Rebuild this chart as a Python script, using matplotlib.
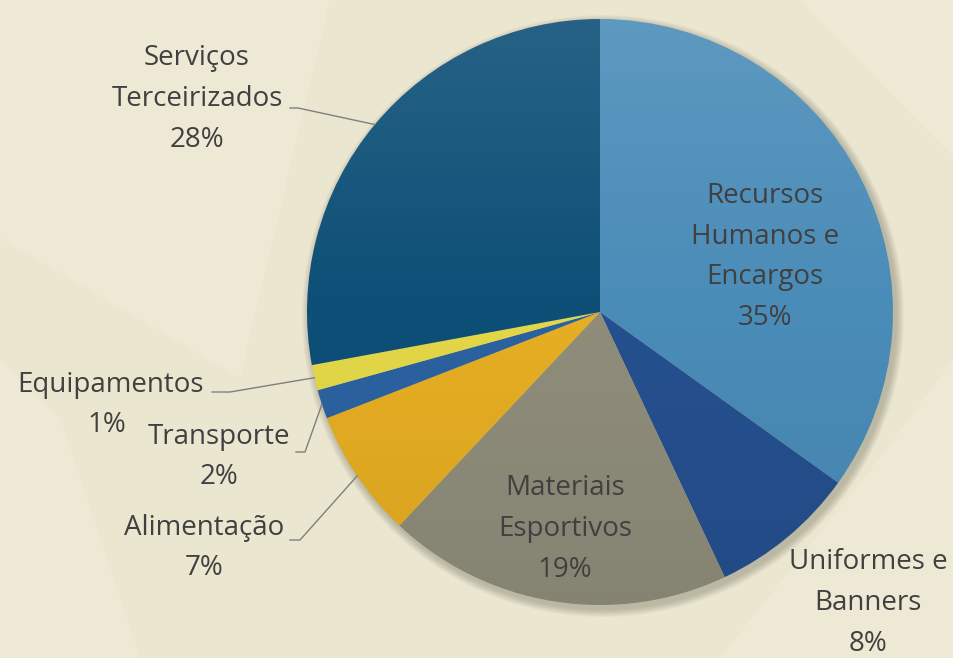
import numpy as np
import matplotlib.pyplot as plt
from matplotlib.patches import Circle, Polygon

# slice data, clockwise from 12 o'clock
labels = ["Recursos\nHumanos e\nEncargos", "Uniformes e\nBanners", "Materiais\nEsportivos",
          "Alimentação", "Transporte", "Equipamentos", "Serviços\nTerceirizados"]
values = [34.9, 8.1, 19.0, 7.1, 1.6, 1.4, 27.9]
pct_labels = ["35%", "8%", "19%", "7%", "2%", "1%", "28%"]
colors = ["#4A8CB8", "#25508F", "#8F8D7A", "#E6AE22", "#2B62A0", "#E3D748", "#0D4F77"]

W, H = 954, 658
fig = plt.figure(figsize=(W / 100, H / 100), dpi=100)
fig.patch.set_facecolor("#EAE6D0")
ax = fig.add_axes([0, 0, 1, 1])
ax.set_xlim(0, W)
ax.set_ylim(0, H)
ax.set_aspect("equal")
ax.axis("off")

# faint geometric background
bg_polys = [
    [(0, 658), (0, 420), (240, 280), (330, 658)],
    [(0, 0), (140, 0), (60, 240), (0, 300)],
    [(720, 0), (954, 0), (954, 300), (880, 200)],
    [(560, 658), (800, 658), (954, 500), (954, 658)],
]
for p in bg_polys:
    ax.add_patch(Polygon(p, closed=True, facecolor="#EDE9D5", edgecolor="none",
                         lw=0, zorder=0))

cx, cy, r = 600, H - 312, 293

# soft shadow
for i in range(8):
    ax.add_patch(Circle((cx + 3, cy - 4), r + 8 - i, facecolor="#3a3a30",
                        alpha=0.035, lw=0, zorder=1))

wedges, _ = ax.pie(values, colors=colors, startangle=90, counterclock=False,
                   center=(cx, cy), radius=r, frame=True,
                   wedgeprops=dict(linewidth=0))
for w in wedges:
    w.set_zorder(2)
ax.set_xlim(0, W)
ax.set_ylim(0, H)
ax.axis("off")

# light-to-dark gradient over the pie
gy = np.linspace(1, 0, 256)[:, None] * np.ones((1, 16))
grad = np.zeros((256, 16, 4))
grad[..., :3] = np.where(gy[..., None] > 0.5, 1.0, 0.0)
grad[..., 3] = np.abs(gy - 0.5) * np.where(gy > 0.5, 0.22, 0.14)
im = ax.imshow(grad, extent=(cx - r, cx + r, cy - r, cy + r), origin="upper",
               aspect="auto", zorder=3)
clip = Circle((cx, cy), r, transform=ax.transData)
im.set_clip_path(clip)
ax.set_xlim(0, W)
ax.set_ylim(0, H)

txt = dict(fontsize=20, color="#404040", ha="center", va="center",
           family=["Open Sans", "DejaVu Sans"], linespacing=1.6, zorder=5)

def mid_point(i, rr=r):
    w = wedges[i]
    a = np.deg2rad((w.theta1 + w.theta2) / 2)
    return cx + rr * np.cos(a), cy + rr * np.sin(a)

# inside labels
ax.text(765, H - 257, labels[0] + "\n" + pct_labels[0], **txt)
ax.text(565, H - 529, labels[2] + "\n" + pct_labels[2], **txt)

# outside labels
ax.text(868, H - 603, labels[1] + "\n" + pct_labels[1], **txt)
ax.text(197, H - 99, labels[6] + "\n" + pct_labels[6], **txt)
ax.text(111, H - 385, labels[5], **txt)
ax.text(107, H - 425, pct_labels[5], **txt)
ax.text(219, H - 457, labels[4] + "\n" + pct_labels[4], **txt)
ax.text(204, H - 548, labels[3] + "\n" + pct_labels[3], **txt)

# leader lines: (text end x, y) -> short flat part -> wedge edge
leaders = [(6, 290, 108, 298), (5, 212, 392, 230), (4, 296, 452, 305), (3, 290, 540, 300)]
for i, x0, y0, x1 in leaders:
    ex, ey = mid_point(i)
    ax.plot([x0, x1, ex], [H - y0, H - y0, ey], color="#7F7F7F", lw=1.0, zorder=4)

fig.savefig("out.png", dpi=100, facecolor=fig.get_facecolor())
